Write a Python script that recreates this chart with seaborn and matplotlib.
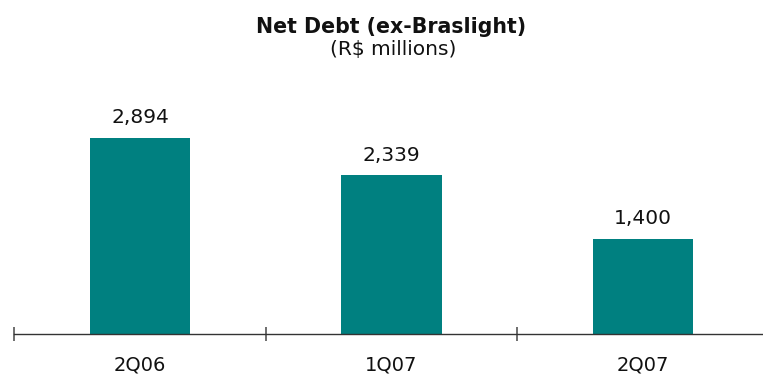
import matplotlib
matplotlib.use("Agg")
import matplotlib.pyplot as plt
import seaborn as sns
import pandas as pd

categories = ["2Q06", "1Q07", "2Q07"]
net_debt = [2894, 2339, 1400]
title = "Net Debt (ex-Braslight)"
subtitle = "(R$ millions)"

sns.set_theme(style="white")
plt.rcParams['font.family'] = ['DejaVu Sans']

df = pd.DataFrame({"period": categories, "value": net_debt})

W, H = 763, 374
fig = plt.figure(figsize=(W / 100, H / 100), dpi=100)
ax = fig.add_axes([14.25 / W, 40.5 / H, (W - 14.25) / W, 236.6 / H])

sns.barplot(data=df, x="period", y="value", order=categories, color="#008080",
            saturation=1, width=0.4, ax=ax, edgecolor="none")

ax.set_xlim(-0.5, 2.477)
ax.set_ylim(0, 3500)

for c in ax.containers:
    ax.bar_label(c, labels=[f"{v:,.0f}" for v in net_debt], padding=7.5,
                 fontsize=14.5, color="#111111")

for s in ["left", "right", "top"]:
    ax.spines[s].set_visible(False)
ax.spines["bottom"].set_color("#333333")
ax.spines["bottom"].set_linewidth(1.0)

ax.set_yticks([])
ax.set_xticks([-0.5, 0.5, 1.5])
ax.set_xticklabels([])
ax.tick_params(axis="x", which="major", direction="inout", length=10,
               width=1.2, color="#555555", bottom=True)
ax.set_xticks([0, 1, 2], minor=True)
ax.set_xticklabels(categories, minor=True)
ax.tick_params(axis="x", which="minor", length=0, pad=16, labelsize=14,
               labelcolor="#111111")
ax.set_xlabel("")
ax.set_ylabel("")

fig.text(391 / W, 1 - 27 / H, title, ha="center", va="center",
         fontsize=14.8, fontweight="bold", color="#111111")
fig.text(393 / W, 1 - 50 / H, subtitle, ha="center", va="center",
         fontsize=14.5, color="#111111")

fig.savefig("out.png", dpi=100)
